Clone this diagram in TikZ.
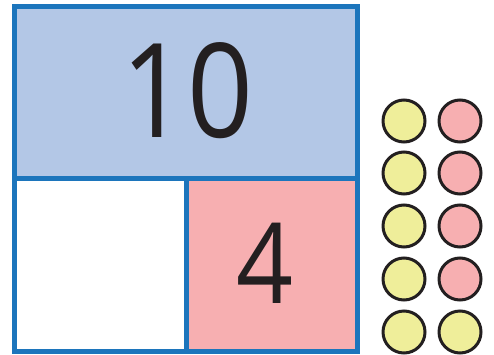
\documentclass[tikz,border=0pt]{standalone}
\usepackage{fontspec}
\setmainfont{Open Sans}
\definecolor{bblue}{HTML}{1C75BC}
\definecolor{lblue}{HTML}{B3C7E6}
\definecolor{lpink}{HTML}{F7AFB1}
\definecolor{lyel}{HTML}{EFEE9A}
\definecolor{ink}{HTML}{231F20}
\tikzset{
  cell/.style={draw=bblue, line width=5pt, inner sep=0pt, outer sep=0pt},
  counter/.style={circle, draw=ink, line width=3pt, minimum size=42pt, inner sep=0pt},
  ycount/.style={counter, fill=lyel},
  pcount/.style={counter, fill=lpink},
  numtext/.style={text=ink, inner sep=0pt, anchor=base}
}
\begin{document}
\begin{tikzpicture}[x=1pt,y=1pt]
\useasboundingbox (0,0) rectangle (494,354);
\node[cell, fill=lblue, minimum width=343pt, minimum height=171.5pt, anchor=south west] (top) at (14.5,176) {};
\node[cell, fill=white, minimum width=171.5pt, minimum height=173pt, anchor=south west] (bl) at (14.5,3) {};
\node[cell, fill=lpink, minimum width=171.5pt, minimum height=173pt, anchor=south west] (br) at (186,3) {};
\node[numtext, font=\fontsize{131}{131}\selectfont] (ten) at (187.5,217) {\scalebox{0.88}[1]{10}};
\node[numtext, font=\fontsize{112}{112}\selectfont] (four) at (265,51) {\scalebox{0.89}[1]{4}};
\node[ycount] (y1) at (404,233) {};
\node[ycount] (y2) at (404,181) {};
\node[ycount] (y3) at (404,128) {};
\node[ycount] (y4) at (404,75) {};
\node[ycount] (y5) at (404,22) {};
\node[pcount] (p1) at (460,233) {};
\node[pcount] (p2) at (460,181) {};
\node[pcount] (p3) at (460,128) {};
\node[pcount] (p4) at (460,75) {};
\node[ycount] (p5) at (460,22) {};
\end{tikzpicture}
\end{document}
